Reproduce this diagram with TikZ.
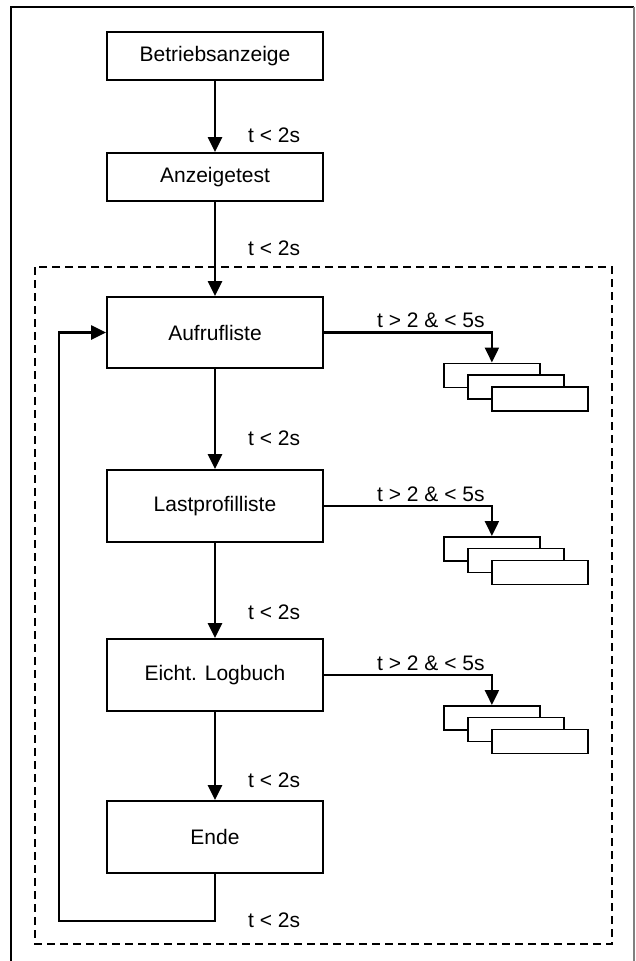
\documentclass[tikz,border=0pt]{standalone}
\usepackage{fontspec}
\setmainfont{Liberation Sans}
\usetikzlibrary{arrows.meta,calc}
\begin{document}
\begin{tikzpicture}[x=1pt,y=-1pt,
  box/.style={draw,line width=1.8pt,fill=white,minimum width=216pt,inner sep=0pt,font=\fontsize{21}{25}\selectfont},
  lbl/.style={inner sep=0pt,font=\fontsize{21}{25}\selectfont,anchor=west},
  conn/.style={line width=2.3pt,-{Triangle[width=14pt,length=15pt]}},
  card/.style={draw,line width=1.8pt,fill=white,minimum width=96pt,minimum height=24pt,inner sep=0pt,anchor=north west}]
\useasboundingbox (0,0) rectangle (635,961);
% outer frame
\draw[line width=2.2pt] (11,961) -- (11,7) -- (634,7);
\draw[line width=2pt,gray] (634,7) -- (634,961);
% dashed frame
\draw[line width=1.8pt,dash pattern=on 8pt off 5pt] (35,267) rectangle (612,944);
% boxes
\node[box,minimum height=48pt] (b1) at (215,56) {Betriebsanzeige};
\node[box,minimum height=48pt] (b2) at (215,177) {Anzeigetest};
\node[box,minimum height=71pt] (b3) at (215,332.5) {Aufrufliste};
\node[box,minimum height=72pt] (b4) at (215,506) {Lastprofilliste};
\node[box,minimum height=72pt] (b5) at (215,675) {Eicht. Logbuch};
\node[box,minimum height=72pt] (b6) at (215,837) {Ende};
% stacks
\node[card] (s1a) at (443,362.5) {};
\node[card] (s1b) at (467,374) {};
\node[card] (s1c) at (491,386) {};
\node[card] (s2a) at (443,536) {};
\node[card] (s2b) at (467,547.5) {};
\node[card] (s2c) at (491,559.5) {};
\node[card] (s3a) at (443,705) {};
\node[card] (s3b) at (467,716.5) {};
\node[card] (s3c) at (491,728.5) {};
% connectors
\draw[conn] (b1) -- (b2);
\draw[conn] (b2) -- (b3);
\draw[conn] (b3) -- (b4);
\draw[conn] (b4) -- (b5);
\draw[conn] (b5) -- (b6);
\coordinate (l2) at (59,921);
\draw[conn] (b6.south) |- (l2) |- (b3.west);
\draw[conn] (b3.east) -| (s1a.north);
\draw[conn] (b4.east) -| (s2a.north);
\draw[conn] (b5.east) -| (s3a.north);
% labels
\node[lbl] (t1) at (248,135) {t < 2s};
\node[lbl] (t2) at (248,248) {t < 2s};
\node[lbl] (t3) at (248,438) {t < 2s};
\node[lbl] (t4) at (248,612) {t < 2s};
\node[lbl] (t5) at (248,780) {t < 2s};
\node[lbl] (t6) at (248,920) {t < 2s};
\node[lbl] (u1) at (377,320) {t > 2 \& < 5s};
\node[lbl] (u2) at (377,494) {t > 2 \& < 5s};
\node[lbl] (u3) at (377,663) {t > 2 \& < 5s};
\end{tikzpicture}
\end{document}
